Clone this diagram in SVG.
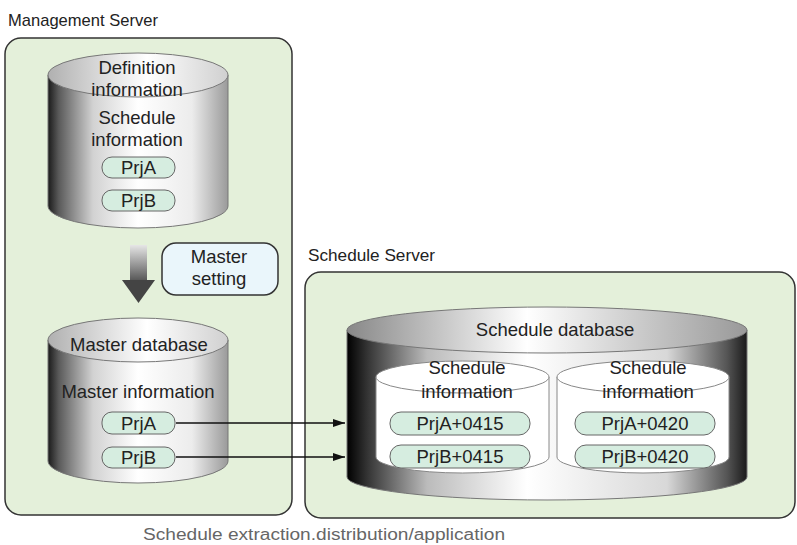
<svg xmlns="http://www.w3.org/2000/svg" width="797" height="545" viewBox="0 0 797 545">
<defs>
<linearGradient id="bodyM" x1="0" y1="0" x2="1" y2="0">
<stop offset="0" stop-color="#1a1a1a"/><stop offset="0.06" stop-color="#5a5a5a"/><stop offset="0.25" stop-color="#d2d2d2"/><stop offset="0.5" stop-color="#ffffff"/><stop offset="0.8" stop-color="#ececec"/><stop offset="1" stop-color="#9a9a9a"/>
</linearGradient>
<linearGradient id="topM" x1="0" y1="0" x2="1" y2="0">
<stop offset="0" stop-color="#b0b0b0"/><stop offset="0.55" stop-color="#ffffff"/><stop offset="1" stop-color="#d0d0d0"/>
</linearGradient>
<linearGradient id="bodyS" x1="0" y1="0" x2="1" y2="0">
<stop offset="0" stop-color="#000"/><stop offset="0.05" stop-color="#333"/><stop offset="0.2" stop-color="#bbb"/><stop offset="0.45" stop-color="#ffffff"/><stop offset="0.8" stop-color="#d8d8d8"/><stop offset="0.95" stop-color="#555"/><stop offset="1" stop-color="#1a1a1a"/>
</linearGradient>
<linearGradient id="topS" x1="0" y1="0" x2="1" y2="0">
<stop offset="0" stop-color="#888"/><stop offset="0.45" stop-color="#ffffff"/><stop offset="1" stop-color="#999"/>
</linearGradient>
<linearGradient id="shaft" x1="0" y1="0" x2="0" y2="1">
<stop offset="0" stop-color="#e6e6e6"/><stop offset="1" stop-color="#555"/>
</linearGradient>
<marker id="ah" viewBox="0 0 12 8" refX="12" refY="4" markerWidth="12" markerHeight="8" markerUnits="userSpaceOnUse" orient="auto">
<path d="M0,0 L12,4 L0,8 Z" fill="#111"/>
</marker>
</defs>
<style>
.box{fill:#e4f0da;stroke:#333;stroke-width:1.5}
.cyl{stroke:#777;stroke-width:1}
.inner{fill:#fff;stroke:#888;stroke-width:1}
.pill{fill:#d6ede0;stroke:#666;stroke-width:1}
.t{font-family:"Liberation Sans",Arial,sans-serif;font-size:18.5px;fill:#222;text-anchor:middle}
.lbl{font-family:"Liberation Sans",Arial,sans-serif;font-size:17px;fill:#222}
.cap{font-family:"Liberation Sans",Arial,sans-serif;font-size:16px;fill:#666}
.conn{stroke:#111;stroke-width:1.5;fill:none}
</style>
<g id="management-server">
<text class="lbl" x="8" y="26" textLength="150" lengthAdjust="spacingAndGlyphs">Management Server</text>
<rect class="box" x="5" y="38" width="287" height="477" rx="16"/>
</g>
<g id="definition-db">
<path class="cyl" fill="url(#bodyM)" d="M48,75 V206 A90,22 0 0 0 228,206 V75 Z"/>
<ellipse class="cyl" fill="url(#topM)" cx="138" cy="75" rx="90" ry="22"/>
<text class="t" x="137" y="74">Definition</text>
<text class="t" x="137" y="96">information</text>
<text class="t" x="137" y="124">Schedule</text>
<text class="t" x="137" y="146">information</text>
<rect class="pill" x="102" y="157" width="73" height="21" rx="10"/>
<text class="t" x="138.5" y="174">PrjA</text>
<rect class="pill" x="102" y="190" width="73" height="21" rx="10"/>
<text class="t" x="138.5" y="207">PrjB</text>
</g>
<g id="master-setting-arrow">
<rect x="130" y="245" width="17" height="36" fill="url(#shaft)"/>
<polygon points="122,280 155,280 138.5,303" fill="#444"/>
</g>
<g id="master-setting">
<rect x="162" y="243" width="116" height="52" rx="14" fill="#eaf6fb" stroke="#333" stroke-width="1.5"/>
<text class="t" x="219" y="263">Master</text>
<text class="t" x="219" y="285">setting</text>
</g>
<g id="master-db">
<path class="cyl" fill="url(#bodyM)" d="M48,340 V461 A90,22 0 0 0 228,461 V340 Z"/>
<ellipse class="cyl" fill="url(#topM)" cx="138" cy="340" rx="90" ry="22"/>
<text class="t" x="139" y="351">Master database</text>
<text class="t" x="138" y="398">Master information</text>
<rect class="pill" x="102" y="412" width="73" height="22" rx="10"/>
<text class="t" x="138.5" y="430">PrjA</text>
<rect class="pill" x="102" y="447" width="73" height="21" rx="10"/>
<text class="t" x="138.5" y="464">PrjB</text>
</g>
<g id="schedule-server">
<text class="lbl" x="308" y="261" textLength="127" lengthAdjust="spacingAndGlyphs">Schedule Server</text>
<rect class="box" x="305" y="272" width="490" height="246" rx="16"/>
</g>
<g id="schedule-db">
<path class="cyl" fill="url(#bodyS)" d="M347,330 V477 A200,23 0 0 0 747,477 V330 Z"/>
<ellipse class="cyl" fill="url(#topS)" cx="547" cy="330" rx="200" ry="23"/>
<text class="t" x="555" y="336" font-size="19.5">Schedule database</text>
</g>
<g id="schedule-info-0415">
<path class="inner" d="M376,377 V457 A86.5,16 0 0 0 549,457 V377 Z"/>
<ellipse class="inner" cx="462.5" cy="377" rx="86.5" ry="16"/>
<text class="t" x="467" y="374">Schedule</text>
<text class="t" x="467" y="398">information</text>
<rect class="pill" x="390" y="412" width="140" height="23" rx="11"/>
<text class="t" x="460" y="430" font-size="19.5">PrjA+0415</text>
<rect class="pill" x="390" y="445" width="140" height="23" rx="11"/>
<text class="t" x="460" y="463" font-size="19.5">PrjB+0415</text>
</g>
<g id="schedule-info-0420">
<path class="inner" d="M557,377 V457 A86,16 0 0 0 729,457 V377 Z"/>
<ellipse class="inner" cx="643" cy="377" rx="86" ry="16"/>
<text class="t" x="648" y="374">Schedule</text>
<text class="t" x="648" y="398">information</text>
<rect class="pill" x="575" y="412" width="140" height="23" rx="11"/>
<text class="t" x="645" y="430" font-size="19.5">PrjA+0420</text>
<rect class="pill" x="575" y="445" width="140" height="23" rx="11"/>
<text class="t" x="645" y="463" font-size="19.5">PrjB+0420</text>
</g>
<g id="connectors">
<line class="conn" x1="176" y1="423" x2="345" y2="423" marker-end="url(#ah)"/>
<line class="conn" x1="176" y1="457" x2="345" y2="457" marker-end="url(#ah)"/>
</g>
<g id="caption">
<text class="cap" x="143" y="540" textLength="362" lengthAdjust="spacingAndGlyphs">Schedule extraction.distribution/application</text>
</g>
</svg>
